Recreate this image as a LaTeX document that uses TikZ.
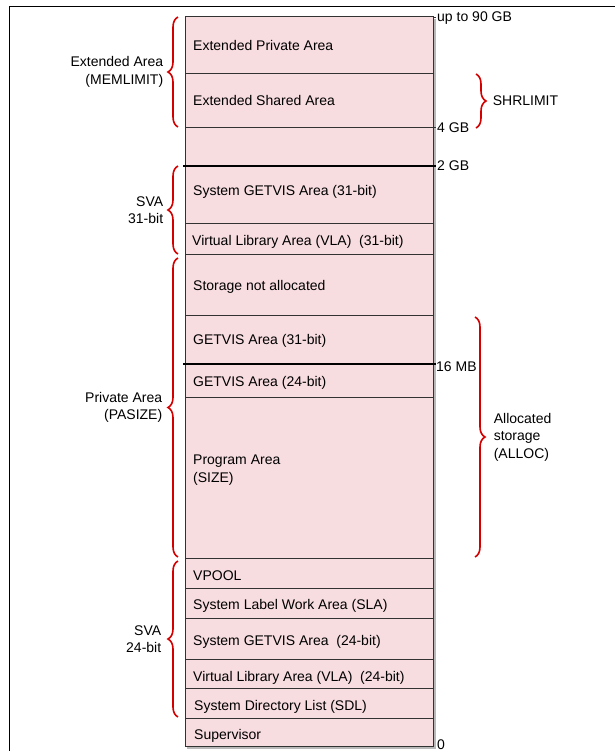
\documentclass[tikz,border=0pt]{standalone}
\usepackage{fontspec}
\setmainfont{Liberation Sans}
\usetikzlibrary{decorations.pathreplacing}
\definecolor{areapink}{RGB}{247,220,224}
\definecolor{bracered}{RGB}{212,0,0}
\definecolor{edgegray}{RGB}{50,50,50}

\begin{document}
\begin{tikzpicture}[x=1pt, y=-1pt,
    txt/.style={font=\fontsize{14}{17.5}\selectfont, inner sep=0pt, text=black},
    area/.style={txt, anchor=west, text height=10pt, text depth=0pt},
    arealines/.style={txt, anchor=west, align=left},
    sizelbl/.style={area},
    divider/.style={edgegray, line width=0.9pt},
    boundary/.style={black, line width=1.5pt},
    lbrace/.style={bracered, line width=1.6pt, decorate, decoration={brace, amplitude=10pt}},
    lbracelbl/.style={txt, midway, anchor=east, align=right, xshift=-14pt},
    rbracelbl/.style={txt, midway, anchor=west, align=left, xshift=16pt}]

        \useasboundingbox (0,0) rectangle (615,751);

        % --- 1. Page frame (cut off right and bottom) ---
        \draw[black, line width=1pt] (9,751) -- (9,7) -- (615,7);

        % --- 2. The storage column ---
        \draw[gray!55, line width=1.6pt] (434.8,19) -- (434.8,747.8) -- (187,747.8);
        \draw[edgegray, line width=1pt, fill=areapink] (185,17) rectangle (433,746);
        \foreach \y in {73, 127, 223, 254, 315, 397, 558, 588, 618, 659, 688, 718} {
            \draw[divider] (185,\y) -- (433,\y);
        }
        % 2 GB and 16 MB lines
        \draw[boundary] (183,166) -- (436,166);
        \draw[boundary] (183,364) -- (436,364);
        \draw[divider] (433,17) -- (436,17);
        \draw[divider] (433,127) -- (436,127);

        % --- 3. Area names ---
        \node[area] (extpriv) at (193,46) {Extended Private Area};
        \node[area] (extshr) at (193,101) {Extended Shared Area};
        \node[area] (sysgv31) at (193,191) {System GETVIS Area (31-bit)};
        \node[area] (vla31) at (192,240) {Virtual Library Area (VLA)\ \ (31-bit)};
        \node[area] (notalloc) at (193,285) {Storage not allocated};
        \node[area] (gv31) at (193,339) {GETVIS Area (31-bit)};
        \node[area] (gv24) at (193,381) {GETVIS Area (24-bit)};
        \node[arealines] (prog) at (193,470) {Program Area\\(SIZE)};
        \node[area] (vpool) at (193,575) {VPOOL};
        \node[area] (sla) at (193,604) {System Label Work Area (SLA)};
        \node[area] (sysgv24) at (193,640) {System GETVIS Area\ \ (24-bit)};
        \node[area] (vla24) at (193,676) {Virtual Library Area (VLA)\ \ (24-bit)};
        \node[area] (sdl) at (194,705) {System Directory List (SDL)};
        \node[area] (sup) at (194,734) {Supervisor};

        % --- 4. Addresses on the right edge ---
        \node[sizelbl] (gb90) at (437,17) {up to 90 GB};
        \node[sizelbl] (gb4) at (437,128) {4 GB};
        \node[sizelbl] (gb2) at (437,166) {2 GB};
        \node[sizelbl] (mb16) at (436,366) {16 MB};
        \node[sizelbl] (zero) at (437,744) {0};

        % --- 5. Braces on the left ---
        \coordinate (ext_top) at (178,17);
        \coordinate (ext_bot) at (178,127);
        \draw[lbrace] (ext_bot) -- (ext_top)
            node[lbracelbl] (extarea) {Extended Area\\(MEMLIMIT)};
        \coordinate (sva31_top) at (178,166);
        \coordinate (sva31_bot) at (178,254);
        \draw[lbrace] (sva31_bot) -- (sva31_top)
            node[lbracelbl] (sva31) {SVA\\31-bit};
        \coordinate (priv_top) at (178,258);
        \coordinate (priv_bot) at (178,557);
        \draw[lbrace] (priv_bot) -- (priv_top)
            node[lbracelbl, xshift=-1pt] (private) {Private Area\\(PASIZE)};
        \coordinate (sva24_top) at (178,561);
        \coordinate (sva24_bot) at (178,717);
        \draw[lbrace] (sva24_bot) -- (sva24_top)
            node[lbracelbl, xshift=-2pt] (sva24) {SVA\\24-bit};

        % --- 6. Braces on the right ---
        \coordinate (shr_top) at (476,74);
        \coordinate (shr_bot) at (476,128);
        \draw[lbrace] (shr_top) -- (shr_bot)
            node[rbracelbl] (shrlimit) {SHRLIMIT};
        \coordinate (alloc_top) at (475,317);
        \coordinate (alloc_bot) at (475,557);
        \draw[lbrace] (alloc_top) -- (alloc_bot)
            node[rbracelbl, xshift=2pt] (alloc) {Allocated\\storage\\(ALLOC)};

    \end{tikzpicture}
\end{document}
